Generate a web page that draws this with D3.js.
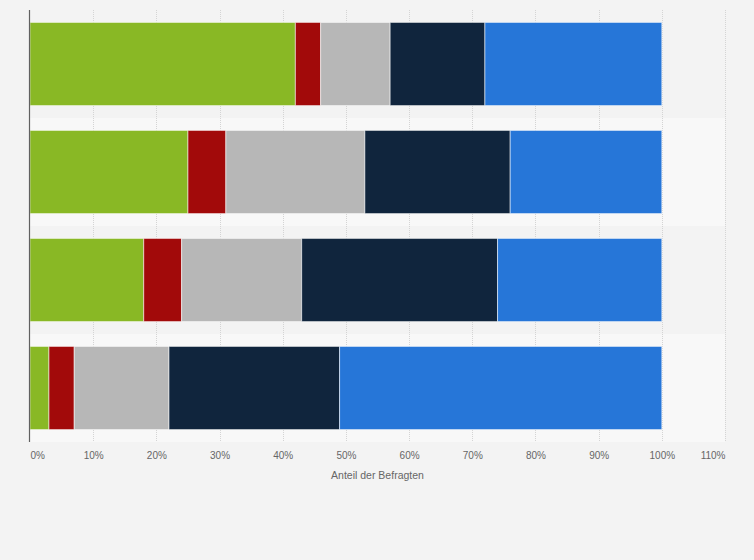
<!DOCTYPE html>
<html>
<head>
<meta charset="utf-8">
<script src="https://cdn.jsdelivr.net/npm/d3@7"></script>
<style>
  body { margin: 0; background: #f3f3f3; }
  svg { display: block; font-family: "Liberation Sans", Arial, sans-serif; }
</style>
</head>
<body>
<div id="chart"></div>
<script>
// Data (percent of respondents)
const categories = ["A", "B", "C", "D"];
const seriesKeys = ["s1", "s2", "s3", "s4", "s5"];
const seriesColors = ["#89b825", "#a20a0a", "#b7b7b7", "#10253d", "#2676d8"];
const s1 = [42, 25, 18, 3];
const s2 = [4, 6, 6, 4];
const s3 = [11, 22, 19, 15];
const s4 = [15, 23, 31, 27];
const s5 = [28, 24, 26, 51];
const tickValues = [0, 10, 20, 30, 40, 50, 60, 70, 80, 90, 100, 110];
const axisTitle = "Anteil der Befragten";

const width = 754, height = 560;
const margin = {top: 10, right: 29, bottom: 118, left: 30};
const innerW = width - margin.left - margin.right;
const innerH = height - margin.top - margin.bottom;

// Build rows for the stack
const seriesValues = [s1, s2, s3, s4, s5];
const rows = categories.map((c, i) => {
    const r = {cat: c};
    seriesKeys.forEach((k, j) => r[k] = seriesValues[j][i]);
    return r;
});
const stacked = d3.stack().keys(seriesKeys)(rows);

const svg = d3.select("#chart")
    .append("svg")
    .attr("width", width)
    .attr("height", height);

const g = svg.append("g")
    .attr("transform", `translate(${margin.left},${margin.top})`);

const xScale = d3.scaleLinear().domain([0, 110]).range([0, innerW]);
const yScale = d3.scaleBand()
    .domain(categories)
    .range([0, innerH])
    .paddingInner(0.23)
    .paddingOuter(0.115);

// Alternating row bands
const step = yScale.step();
g.selectAll(".band")
    .data(categories)
    .join("rect")
    .attr("class", "band")
    .attr("x", 0)
    .attr("width", innerW)
    .attr("y", d => yScale(d) - yScale.paddingInner() * step / 2)
    .attr("height", step)
    .attr("fill", (d, i) => i % 2 ? "#f8f8f8" : "#f3f3f3");

// Grid lines
g.selectAll(".grid")
    .data(tickValues.filter(d => d > 0))
    .join("line")
    .attr("class", "grid")
    .attr("x1", d => Math.round(xScale(d)) + 0.5)
    .attr("x2", d => Math.round(xScale(d)) + 0.5)
    .attr("y1", 0)
    .attr("y2", innerH)
    .attr("stroke", "#d4d4d4")
    .attr("stroke-dasharray", "1,1");

// Bars
g.selectAll(".series")
    .data(stacked)
    .join("g")
    .attr("class", "series")
    .attr("fill", (d, i) => seriesColors[i])
    .selectAll("rect")
    .data(d => d)
    .join("rect")
    .attr("x", d => xScale(d[0]))
    .attr("width", d => xScale(d[1]) - xScale(d[0]))
    .attr("y", d => yScale(d.data.cat))
    .attr("height", yScale.bandwidth())
    .attr("stroke", "#ffffff")
    .attr("stroke-opacity", 0.55)
    .attr("stroke-width", 1);

// Left axis line
g.append("line")
    .attr("x1", -0.5).attr("x2", -0.5)
    .attr("y1", 0).attr("y2", innerH)
    .attr("stroke", "#606060")
    .attr("stroke-width", 1.2);

// X axis labels
const xAxis = d3.axisBottom(xScale)
    .tickValues(tickValues)
    .tickSize(0)
    .tickPadding(10)
    .tickFormat(d => d + "%");
const ax = g.append("g")
    .attr("transform", `translate(0,${innerH})`)
    .call(xAxis);
ax.select(".domain").remove();
ax.selectAll("text")
    .attr("fill", "#666")
    .attr("font-size", 10)
    .attr("text-anchor", (d, i) => i === 0 ? "start" : (i === tickValues.length - 1 ? "end" : "middle"));

// Axis title
g.append("text")
    .attr("x", innerW / 2)
    .attr("y", innerH + 37)
    .attr("text-anchor", "middle")
    .attr("fill", "#666")
    .attr("font-size", 10.5)
    .text(axisTitle);
</script>
</body>
</html>
